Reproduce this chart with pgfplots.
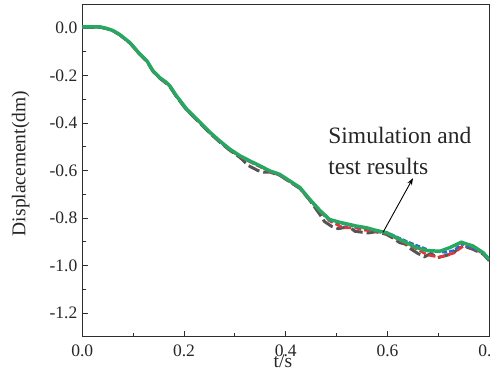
\documentclass[border=0pt]{standalone}
\usepackage{pgfplots}
\pgfplotsset{compat=1.18}
\usepackage{fontspec}
\setmainfont{Liberation Serif}
\usetikzlibrary{arrows.meta}
\definecolor{cgreen}{RGB}{38,168,96}
\definecolor{cgray}{RGB}{85,85,85}
\definecolor{cred}{RGB}{232,52,52}
\definecolor{cblue}{RGB}{52,100,200}
\definecolor{caxis}{RGB}{45,45,45}
\begin{document}
\begin{tikzpicture}
\begin{axis}[
  at={(0pt,0pt)}, anchor=south west,
  scale only axis, width=407pt, height=332.4pt,
  xmin=0, xmax=0.8, ymin=-1.3, ymax=0.1,
  xtick={0,0.2,0.4,0.6,0.8}, ytick={-1.2,-1.0,-0.8,-0.6,-0.4,-0.2,0},
  minor x tick num=1, minor y tick num=1,
  tick align=inside, xtick pos=bottom, ytick pos=left,
  major tick length=6pt, minor tick length=3.7pt,
  axis line style={caxis, line width=1.1pt},
  every tick/.style={caxis, line width=0.9pt},
  /pgf/number format/assume math mode=true,
  /pgf/number format/fixed, /pgf/number format/fixed zerofill,
  /pgf/number format/precision=1,
  ticklabel style={font=\fontsize{17.5}{20}\selectfont, text=black!85},
  xticklabel style={yshift=-5pt},
  yticklabel style={xshift=-1.5pt},
  xlabel={t/s}, ylabel={Displacement(dm)},
  xlabel style={at={(axis description cs:0.493,0)}, anchor=base, yshift=-30.3pt, font=\fontsize{19.5}{22}\selectfont, text=black!85},
  ylabel style={at={(axis description cs:-0.140,0.521)}, anchor=base, rotate=0, font=\fontsize{19.5}{22}\selectfont, text=black!85},
]
% gray (test, dashed)
\addplot[cgray, line width=3pt, dash pattern=on 12pt off 4pt] coordinates {
(0,0.003) (0.035,0.003) (0.047,-0.002) (0.06,-0.011) (0.074,-0.029) (0.094,-0.064) (0.113,-0.111) (0.127,-0.140) (0.139,-0.183) (0.153,-0.213) (0.164,-0.231) (0.172,-0.247) (0.185,-0.289) (0.205,-0.345) (0.231,-0.400) (0.251,-0.443) (0.270,-0.480) (0.290,-0.515) (0.310,-0.545) (0.327,-0.580) (0.345,-0.600) (0.356,-0.607) (0.369,-0.607) (0.388,-0.620) (0.408,-0.648) (0.428,-0.676) (0.447,-0.725) (0.467,-0.785) (0.476,-0.815) (0.490,-0.835) (0.503,-0.845) (0.515,-0.840) (0.525,-0.838) (0.536,-0.856) (0.550,-0.860) (0.562,-0.863) (0.577,-0.858) (0.598,-0.869) (0.611,-0.885) (0.624,-0.904) (0.635,-0.910) (0.647,-0.932) (0.660,-0.950) (0.673,-0.963) (0.685,-0.950) (0.699,-0.967) (0.715,-0.958) (0.729,-0.949) (0.738,-0.930) (0.749,-0.918) (0.768,-0.932) (0.788,-0.952) (0.800,-0.980)
};
% red (dashed)
\addplot[cred, line width=2.6pt, dash pattern=on 7pt off 3pt] coordinates {
(0,0.004) (0.035,0.004) (0.047,-0.002) (0.06,-0.012) (0.074,-0.030) (0.094,-0.065) (0.113,-0.112) (0.127,-0.141) (0.139,-0.183) (0.153,-0.213) (0.164,-0.230) (0.172,-0.246) (0.185,-0.288) (0.205,-0.345) (0.231,-0.399) (0.251,-0.442) (0.270,-0.478) (0.290,-0.513) (0.310,-0.542) (0.329,-0.563) (0.349,-0.584) (0.369,-0.606) (0.388,-0.620) (0.408,-0.648) (0.428,-0.676) (0.447,-0.725) (0.467,-0.772) (0.486,-0.812) (0.513,-0.841) (0.539,-0.842) (0.550,-0.850) (0.580,-0.858) (0.600,-0.866) (0.624,-0.894) (0.640,-0.912) (0.657,-0.930) (0.678,-0.955) (0.700,-0.965) (0.715,-0.958) (0.730,-0.948) (0.749,-0.918) (0.768,-0.926) (0.788,-0.950) (0.800,-0.978)
};
% blue (dashed)
\addplot[cblue, line width=2.6pt, dash pattern=on 5pt off 2pt] coordinates {
(0,0.004) (0.035,0.004) (0.047,-0.001) (0.06,-0.011) (0.074,-0.029) (0.094,-0.063) (0.113,-0.110) (0.127,-0.139) (0.139,-0.181) (0.153,-0.211) (0.164,-0.228) (0.172,-0.244) (0.185,-0.287) (0.205,-0.343) (0.231,-0.398) (0.251,-0.441) (0.270,-0.477) (0.290,-0.512) (0.310,-0.540) (0.329,-0.561) (0.349,-0.582) (0.369,-0.604) (0.388,-0.618) (0.408,-0.646) (0.428,-0.674) (0.447,-0.723) (0.467,-0.770) (0.486,-0.809) (0.506,-0.821) (0.539,-0.837) (0.559,-0.844) (0.577,-0.855) (0.600,-0.862) (0.612,-0.874) (0.637,-0.898) (0.654,-0.913) (0.687,-0.940) (0.716,-0.945) (0.732,-0.936) (0.745,-0.906) (0.755,-0.918) (0.774,-0.932) (0.788,-0.948) (0.800,-0.977)
};
% green (simulation)
\addplot[cgreen, line width=3.4pt] coordinates {
(0,0.005) (0.035,0.005) (0.047,-0.001) (0.060,-0.010) (0.074,-0.028) (0.094,-0.062) (0.113,-0.109) (0.127,-0.138) (0.139,-0.180) (0.153,-0.210) (0.164,-0.227) (0.172,-0.243) (0.185,-0.285) (0.205,-0.341) (0.231,-0.396) (0.251,-0.439) (0.270,-0.475) (0.290,-0.510) (0.310,-0.538) (0.329,-0.559) (0.349,-0.580) (0.369,-0.602) (0.388,-0.616) (0.408,-0.644) (0.428,-0.672) (0.447,-0.721) (0.467,-0.768) (0.486,-0.806) (0.506,-0.818) (0.539,-0.834) (0.559,-0.841) (0.577,-0.852) (0.598,-0.862) (0.624,-0.890) (0.640,-0.907) (0.657,-0.925) (0.677,-0.937) (0.703,-0.940) (0.722,-0.925) (0.745,-0.902) (0.768,-0.918) (0.788,-0.946) (0.800,-0.975)
};
\draw[black, line width=0.9pt, -{Stealth[length=7pt,width=5pt]}] (axis cs:0.591,-0.861) -- (axis cs:0.650,-0.632);
\node[anchor=base west, inner sep=0pt, font=\fontsize{23.5}{31}\selectfont, text=black!85] at (axis cs:0.4833,-0.4846) {Simulation and};
\node[anchor=base west, inner sep=0pt, font=\fontsize{23.5}{31}\selectfont, text=black!85] at (axis cs:0.4833,-0.6155) {test results};
\end{axis}
\pgfresetboundingbox
\path[use as bounding box] (-82.3pt,-39.3pt) rectangle (407.7pt,336.7pt);
\end{tikzpicture}
\end{document}
